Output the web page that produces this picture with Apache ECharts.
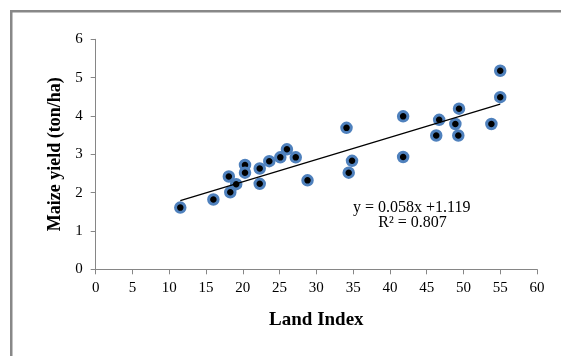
<!DOCTYPE html>
<html>
<head>
<meta charset="utf-8">
<script src="https://cdn.jsdelivr.net/npm/echarts@6/dist/echarts.min.js"></script>
<style>
html,body{margin:0;padding:0;background:#fff;}
#c{width:561px;height:356px;}
</style>
</head>
<body>
<div id="c"></div>
<script>
// Data
var landIndex = [11.5, 16.0, 18.1, 18.3, 19.1, 20.3, 20.3, 22.3, 22.3, 23.6, 25.1, 26.0, 27.2, 28.8,
                 34.1, 34.85, 34.4, 41.8, 41.8, 46.7, 46.3, 49.4, 48.9, 49.3, 53.8, 55.0, 55.0];
var maizeYield = [1.61, 1.82, 2.42, 2.01, 2.22, 2.72, 2.52, 2.63, 2.23, 2.82, 2.92, 3.13, 2.92, 2.32,
                  3.69, 2.83, 2.52, 3.99, 2.93, 3.90, 3.49, 4.19, 3.79, 3.49, 3.79, 4.49, 5.18];
var trendX = [11.5, 55.0];
var trendY = [1.79, 4.31];
var equationText = 'y = 0.058x +1.119';
var r2Text = 'R² = 0.807';
var xTitle = 'Land Index';
var yTitle = 'Maize yield (ton/ha)';

var points = landIndex.map(function (x, i) { return [x, maizeYield[i]]; });
var trend = trendX.map(function (x, i) { return [x, trendY[i]]; });

var font = '"Liberation Serif", "Times New Roman", serif';
var axisColor = '#868686';

var chart = echarts.init(document.getElementById('c'), null, {renderer: 'canvas'});
chart.setOption({
  animation: false,
  backgroundColor: '#ffffff',
  grid: {left: 95.7, right: 24, top: 39.3, bottom: 86.7, containLabel: false},
  xAxis: {
    type: 'value', min: 0, max: 60, interval: 5,
    name: xTitle, nameLocation: 'middle', nameGap: 41,
    nameTextStyle: {fontFamily: font, fontWeight: 'bold', fontSize: 19, color: '#000'},
    axisLine: {show: true, onZero: false, lineStyle: {color: axisColor, width: 1}},
    axisTick: {show: true, length: 5, lineStyle: {color: axisColor}},
    axisLabel: {fontFamily: font, fontSize: 15, color: '#000', margin: 11},
    splitLine: {show: false}
  },
  yAxis: {
    type: 'value', min: 0, max: 6, interval: 1,
    name: yTitle, nameLocation: 'middle', nameGap: 29, nameRotate: 90,
    nameTextStyle: {fontFamily: font, fontWeight: 'bold', fontSize: 18, color: '#000'},
    axisLine: {show: true, lineStyle: {color: axisColor, width: 1}},
    axisTick: {show: true, length: 5, lineStyle: {color: axisColor}},
    axisLabel: {fontFamily: font, fontSize: 15, color: '#000', margin: 13},
    splitLine: {show: false}
  },
  series: [
    {
      type: 'line', data: trend, symbol: 'none', silent: true,
      lineStyle: {color: '#000', width: 1.2}, z: 3
    },
    {
      type: 'scatter', data: points, symbol: 'circle', symbolSize: 9.5,
      itemStyle: {color: '#000', borderColor: '#4f81bd', borderWidth: 3, opacity: 1}, z: 2
    }
  ],
  graphic: [
    {type: 'rect', silent: true, z: -1,
     shape: {x: 11.25, y: 11.25, width: 700, height: 500},
     style: {fill: 'none', stroke: '#888888', lineWidth: 2.5}},
    {type: 'text', x: 411.7, y: 208, silent: true,
     style: {text: equationText, font: '16px ' + font, fill: '#000', align: 'center', verticalAlign: 'middle'}},
    {type: 'text', x: 412.5, y: 223, silent: true,
     style: {text: r2Text, font: '16px ' + font, fill: '#000', align: 'center', verticalAlign: 'middle'}}
  ]
});
</script>
</body>
</html>
